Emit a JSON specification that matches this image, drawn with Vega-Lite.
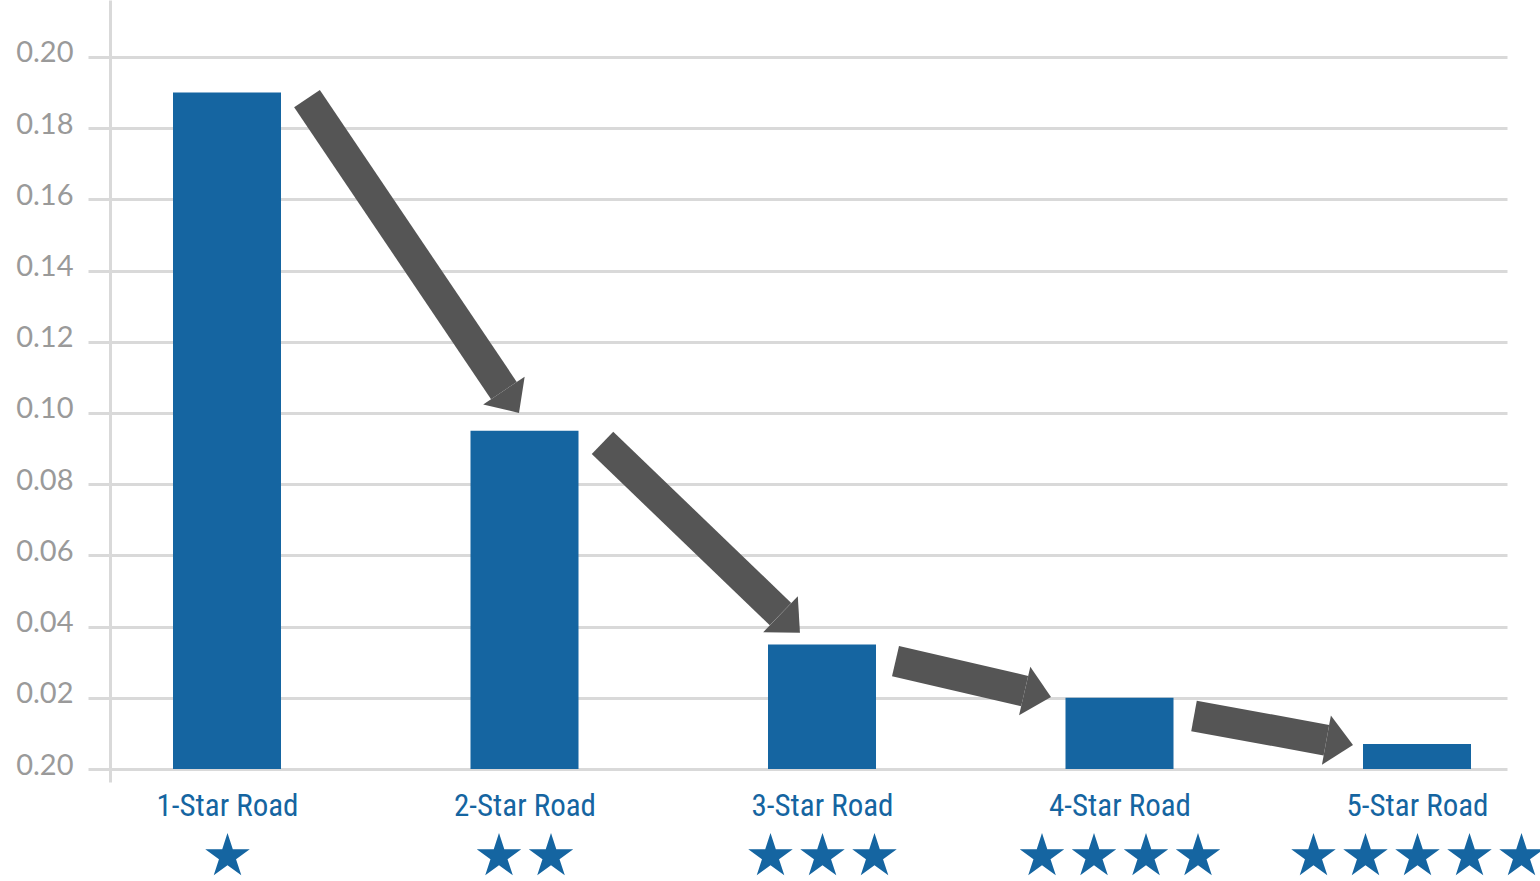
{
  "$schema": "https://vega.github.io/schema/vega-lite/v6.json",
  "width": 1397,
  "height": 782,
  "autosize": {"type": "none"},
  "padding": {"left": 110, "top": 0, "right": 33, "bottom": 99},
  "background": "white",
  "config": {"view": {"stroke": null}},
  "datasets": {
    "roads": [
      {"stars": 1, "rate": 0.19},
      {"stars": 2, "rate": 0.095},
      {"stars": 3, "rate": 0.035},
      {"stars": 4, "rate": 0.02},
      {"stars": 5, "rate": 0.007}
    ],
    "arrows": [
      {"from_x": 1.2689, "from_y": 0.1883, "to_x": 1.9308, "to_y": 0.1063, "angle": 56.1},
      {"from_x": 2.2622, "from_y": 0.0916, "to_x": 2.8605, "to_y": 0.0435, "angle": 43.9},
      {"from_x": 3.2471, "from_y": 0.0303, "to_x": 3.6813, "to_y": 0.0219, "angle": 13.0},
      {"from_x": 4.2504, "from_y": 0.0149, "to_x": 4.6955, "to_y": 0.0081, "angle": 10.3}
    ]
  },
  "resolve": {"axis": {"x": "independent", "y": "independent"}},
  "layer": [
    {
      "data": {"name": "roads"},
      "mark": {"type": "bar", "orient": "vertical", "width": 108, "color": "#1565a1"},
      "encoding": {
        "x": {
          "field": "stars", "type": "quantitative",
          "scale": {"domain": [0.60672, 5.30252], "nice": false, "zero": false, "padding": 0},
          "axis": {
            "orient": "bottom", "title": null, "values": [1, 2, 3, 4, 5],
            "labelExpr": "datum.value + '-Star Road'",
            "domain": false, "ticks": false, "grid": false,
            "labelFont": "Roboto Condensed, Liberation Sans Narrow, Roboto, sans-serif",
            "labelFontSize": 31, "labelColor": "#1565a1", "labelPadding": 9,
            "labelOverlap": false, "labelBound": false, "labelFlush": false, "labelLimit": 0
          }
        },
        "y": {
          "field": "rate", "type": "quantitative",
          "scale": {"domain": [-0.00365, 0.216], "nice": false, "zero": false, "padding": 0},
          "axis": {
            "title": null, "values": [0, 0.02, 0.04, 0.06, 0.08, 0.1, 0.12, 0.14, 0.16, 0.18, 0.2],
            "labelExpr": "datum.value == 0 ? '0.20' : format(datum.value, '.2f')",
            "domain": true, "domainColor": "#d9d9d9", "domainWidth": 3,
            "grid": true, "gridColor": "#d9d9d9", "gridWidth": 3,
            "ticks": true, "tickSize": 22, "tickColor": "#d9d9d9", "tickWidth": 3,
            "labelFont": "Lato", "labelFontSize": 29, "labelColor": "#9a9a9a",
            "labelPadding": 15, "labelOffset": -4, "labelOverlap": false, "labelBound": false
          }
        }
      }
    },
    {
      "data": {"name": "roads"},
      "mark": {"type": "point", "opacity": 0},
      "encoding": {
        "x": {
          "field": "stars", "type": "quantitative",
          "axis": {
            "orient": "bottom", "title": null, "values": [1, 2, 3, 4, 5], "offset": 46,
            "labelExpr": "['★', '★★', '★★★', '★★★★', '★★★★★'][datum.value - 1]",
            "domain": false, "ticks": false, "grid": false,
            "labelFont": "DejaVu Sans", "labelFontSize": 58, "labelColor": "#1565a1",
            "labelPadding": 0, "labelOverlap": false, "labelBound": false, "labelFlush": false, "labelLimit": 0
          }
        },
        "y": {"field": "rate", "type": "quantitative", "axis": null}
      }
    },
    {
      "data": {"name": "arrows"},
      "mark": {"type": "rule", "strokeWidth": 31, "strokeCap": "butt", "color": "#555555"},
      "encoding": {
        "x": {"field": "from_x", "type": "quantitative", "axis": null},
        "y": {"field": "from_y", "type": "quantitative", "axis": null},
        "x2": {"field": "to_x"},
        "y2": {"field": "to_y"}
      }
    },
    {
      "data": {"name": "arrows"},
      "mark": {"type": "point", "shape": "M0,-1.85L2,0L0,1.85Z", "size": 729, "filled": true, "opacity": 1, "color": "#555555"},
      "encoding": {
        "x": {"field": "to_x", "type": "quantitative", "axis": null},
        "y": {"field": "to_y", "type": "quantitative", "axis": null},
        "angle": {"field": "angle", "type": "quantitative", "scale": null}
      }
    }
  ]
}
